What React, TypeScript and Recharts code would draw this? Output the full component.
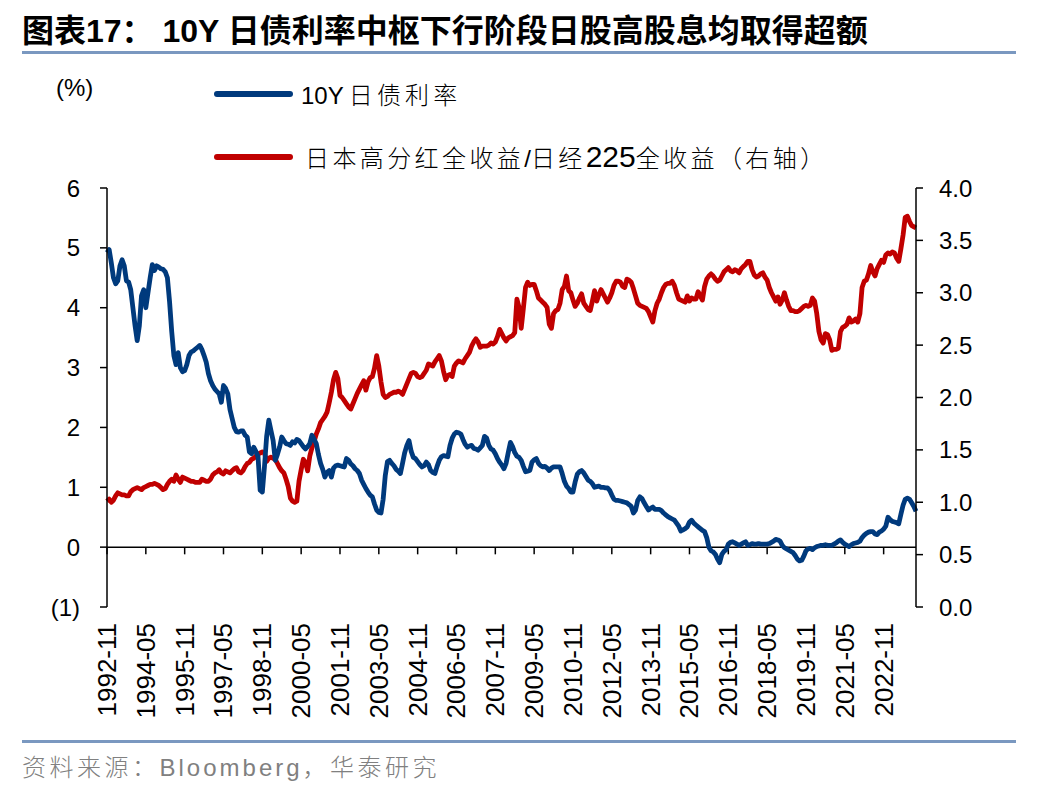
import React from 'react';
import { LineChart, Line, XAxis, YAxis, ReferenceLine } from 'recharts';

// Monthly categories: 1992-11 ... 2024-02
const FIRST_YEAR = 1992;
const FIRST_MONTH = 11;
const MONTH_COUNT = 376;
const months: string[] = [];
for (let i = 0; i < MONTH_COUNT; i++) {
  const t = FIRST_YEAR * 12 + (FIRST_MONTH - 1) + i;
  const y = Math.floor(t / 12);
  const m = (t % 12) + 1;
  months.push(`${y}-${m < 10 ? '0' + m : m}`);
}

// 10Y JGB yield (%), left axis
const jgb10y: number[] = [
  4.92,4.97,4.75,4.5,4.4,4.45,4.7,4.8,4.7,4.45,
  4.43,4.3,4.0,3.7,3.45,3.7,4.2,4.3,4.0,4.25,
  4.5,4.72,4.62,4.7,4.68,4.65,4.64,4.6,4.5,4.1,
  3.6,3.2,3.05,3.25,3.0,2.93,2.95,3.05,3.2,3.26,
  3.28,3.31,3.34,3.37,3.3,3.2,3.09,2.9,2.78,2.7,
  2.64,2.6,2.56,2.42,2.7,2.65,2.56,2.3,2.15,2.0,
  1.93,1.92,1.94,1.94,1.87,1.84,1.59,1.56,1.67,1.6,
  1.51,0.95,0.92,1.35,1.85,2.12,1.95,1.78,1.45,1.55,
  1.67,1.84,1.78,1.73,1.72,1.7,1.76,1.74,1.8,1.78,
  1.73,1.68,1.64,1.68,1.73,1.87,1.8,1.73,1.55,1.4,
  1.3,1.17,1.25,1.28,1.17,1.32,1.36,1.37,1.36,1.35,
  1.34,1.48,1.45,1.39,1.36,1.31,1.28,1.23,1.12,1.05,
  0.98,0.92,0.87,0.84,0.72,0.62,0.58,0.57,0.8,1.2,
  1.43,1.45,1.4,1.36,1.3,1.27,1.23,1.4,1.58,1.7,
  1.78,1.6,1.5,1.48,1.43,1.38,1.34,1.36,1.42,1.38,
  1.28,1.25,1.23,1.35,1.45,1.51,1.53,1.52,1.51,1.7,
  1.82,1.89,1.92,1.91,1.89,1.8,1.72,1.67,1.69,1.7,
  1.65,1.64,1.62,1.66,1.7,1.85,1.82,1.7,1.64,1.62,
  1.56,1.48,1.42,1.37,1.31,1.4,1.58,1.75,1.68,1.58,
  1.52,1.5,1.45,1.35,1.26,1.27,1.28,1.42,1.46,1.48,
  1.4,1.36,1.34,1.35,1.32,1.28,1.32,1.34,1.34,1.34,
  1.34,1.23,1.1,1.02,0.98,0.92,0.92,1.09,1.22,1.26,
  1.28,1.24,1.18,1.12,1.1,1.06,1.0,1.01,1.02,1.0,
  1.0,0.99,0.99,0.95,0.87,0.8,0.78,0.78,0.77,0.76,
  0.75,0.74,0.71,0.68,0.57,0.62,0.78,0.84,0.81,0.74,
  0.68,0.62,0.65,0.67,0.63,0.63,0.63,0.61,0.57,0.54,
  0.51,0.49,0.47,0.45,0.4,0.35,0.27,0.29,0.31,0.34,
  0.42,0.45,0.4,0.37,0.34,0.31,0.28,0.26,0.16,0.0,
  -0.06,-0.08,-0.12,-0.2,-0.26,-0.12,-0.07,-0.04,0.05,0.08,
  0.09,0.07,0.05,0.03,0.05,0.07,0.09,0.03,0.04,0.06,
  0.05,0.05,0.06,0.05,0.05,0.05,0.05,0.06,0.08,0.1,
  0.13,0.12,0.1,0.03,-0.01,-0.03,-0.05,-0.07,-0.09,-0.14,
  -0.2,-0.23,-0.22,-0.15,-0.06,-0.03,-0.02,-0.04,-0.01,0.01,
  0.02,0.03,0.03,0.04,0.03,0.03,0.03,0.05,0.07,0.1,
  0.12,0.08,0.05,0.03,0.01,0.04,0.06,0.07,0.08,0.1,
  0.16,0.2,0.23,0.25,0.26,0.26,0.22,0.21,0.25,0.27,
  0.3,0.35,0.5,0.46,0.43,0.42,0.41,0.39,0.55,0.7,
  0.8,0.82,0.8,0.74,0.68,0.6,
];

// Japan high dividend total return / Nikkei 225 total return, right axis
const highDivRatio: number[] = [
  1.01,1.03,1.0,1.02,1.06,1.09,1.08,1.07,1.07,1.06,
  1.06,1.1,1.12,1.13,1.14,1.13,1.12,1.14,1.15,1.16,
  1.17,1.17,1.18,1.17,1.16,1.14,1.12,1.13,1.17,1.2,
  1.22,1.2,1.26,1.22,1.19,1.24,1.23,1.22,1.21,1.2,
  1.2,1.19,1.19,1.19,1.22,1.21,1.2,1.2,1.22,1.26,
  1.28,1.29,1.31,1.28,1.27,1.3,1.29,1.28,1.3,1.32,
  1.33,1.29,1.28,1.3,1.34,1.37,1.38,1.41,1.42,1.44,
  1.46,1.47,1.48,1.47,1.39,1.42,1.43,1.42,1.41,1.37,
  1.33,1.3,1.28,1.22,1.15,1.04,1.01,1.0,1.01,1.2,
  1.31,1.41,1.38,1.3,1.44,1.52,1.58,1.65,1.7,1.76,
  1.79,1.82,1.86,1.95,2.05,2.17,2.24,2.18,2.02,2.0,
  1.97,1.94,1.91,1.89,1.94,1.99,2.04,2.08,2.12,2.16,
  2.07,2.15,2.19,2.2,2.28,2.4,2.3,2.15,2.03,2.0,
  2.01,2.03,2.04,2.05,2.05,2.06,2.05,2.03,2.08,2.13,
  2.18,2.23,2.24,2.23,2.2,2.19,2.2,2.23,2.26,2.32,
  2.31,2.3,2.34,2.37,2.4,2.35,2.25,2.17,2.21,2.22,
  2.2,2.3,2.33,2.35,2.34,2.33,2.37,2.4,2.43,2.49,
  2.53,2.56,2.53,2.48,2.49,2.49,2.49,2.5,2.52,2.51,
  2.53,2.58,2.65,2.61,2.57,2.54,2.57,2.58,2.59,2.62,
  2.94,2.86,2.66,2.85,3.05,3.1,3.07,3.08,3.08,3.02,
  2.95,2.93,2.91,2.89,2.86,2.7,2.66,2.8,2.83,2.84,
  2.9,3.03,3.06,3.16,3.02,3.0,2.93,2.87,2.9,2.95,
  2.99,2.9,2.87,2.84,2.83,2.92,3.02,2.92,2.98,3.03,
  2.99,2.95,2.91,2.95,3.0,3.07,3.11,3.11,3.1,3.06,
  3.05,3.13,3.12,3.1,3.04,2.97,2.9,2.88,2.87,2.86,
  2.85,2.82,2.77,2.72,2.83,2.9,2.94,3.0,3.05,3.08,
  3.09,3.09,3.11,3.07,3.0,2.94,2.93,2.92,2.91,2.97,
  2.92,2.95,2.94,2.94,3.01,2.97,2.93,3.06,3.13,3.16,
  3.18,3.16,3.13,3.11,3.12,3.16,3.2,3.22,3.24,3.21,
  3.2,3.22,3.21,3.19,3.23,3.25,3.27,3.3,3.3,3.22,
  3.17,3.15,3.16,3.18,3.19,3.15,3.12,3.05,3.0,2.96,
  2.92,2.96,2.89,2.93,3.0,2.93,2.87,2.83,2.83,2.82,
  2.82,2.83,2.85,2.87,2.88,2.87,2.88,2.95,2.92,2.8,
  2.63,2.55,2.52,2.61,2.6,2.55,2.45,2.46,2.46,2.47,
  2.63,2.67,2.68,2.7,2.76,2.72,2.73,2.75,2.72,2.8,
  3.05,3.11,3.12,3.18,3.26,3.2,3.16,3.23,3.27,3.31,
  3.29,3.36,3.38,3.37,3.39,3.38,3.33,3.3,3.42,3.55,
  3.72,3.73,3.68,3.64,3.63,3.62,
];

const leftTicks: number[] = [-1, 0, 1, 2, 3, 4, 5, 6];
const rightTicks: number[] = [0, 0.5, 1, 1.5, 2, 2.5, 3, 3.5, 4];
const LABEL_STEP = 18;
const xTickLabels: string[] = months.filter((_, i) => i % LABEL_STEP === 0);

const TITLE = '图表17： 10Y 日债利率中枢下行阶段日股高股息均取得超额';
const UNIT = '(%)';
const SOURCE_A = '资料来源：';
const SOURCE_B = 'Bloomberg';
const SOURCE_C = '，华泰研究';

const BLUE = '#003A7D';
const RED = '#C00000';
const RULE = '#7A98C0';
const FONT = '"Liberation Sans", Arial, "Noto Sans CJK SC", sans-serif';
const CJK = '"Noto Sans CJK SC", sans-serif';

const data = months.map((d, i) => ({ d, jgb: jgb10y[i], ratio: highDivRatio[i] }));

const fmtLeft = (v: number) => (v < 0 ? `(${Math.abs(v)})` : `${v}`);
const fmtRight = (v: number) => v.toFixed(1);

const XTick = (props: any) => {
  const { x, y, payload } = props;
  return (
    <text
      transform={`translate(${x},${y + 16}) rotate(-90)`}
      textAnchor="end"
      dominantBaseline="central"
      fontSize={26}
      fontFamily={FONT}
      fill="#000"
    >
      {payload.value}
    </text>
  );
};

const cjkStyle = (ls: number): React.CSSProperties => ({ fontFamily: CJK, fontWeight: 300, letterSpacing: ls });
const latStyle = (fs: number, ls = 0): React.CSSProperties => ({ fontFamily: FONT, fontSize: fs, letterSpacing: ls });

export default function App() {
  return (
    <div style={{ position: 'absolute', left: 0, top: 0, width: 1048, height: 792, background: '#fff', fontFamily: FONT }}>
      <div style={{ position: 'absolute', left: 22, top: 11, fontSize: 32, fontWeight: 700, whiteSpace: 'pre', color: '#000', lineHeight: '40px' }}>
        {TITLE}
      </div>
      <div style={{ position: 'absolute', left: 22, top: 51, width: 994, height: 3, background: RULE }} />

      <div style={{ position: 'absolute', left: 56, top: 73, fontSize: 24, lineHeight: '30px', color: '#000' }}>{UNIT}</div>
      <svg style={{ position: 'absolute', left: 0, top: 0 }} width={1048} height={200}>
        <line x1={217} y1={94} x2={290} y2={94} stroke={BLUE} strokeWidth={6} strokeLinecap="round" />
        <line x1={217} y1={157} x2={290} y2={157} stroke={RED} strokeWidth={6} strokeLinecap="round" />
      </svg>
      <div style={{ position: 'absolute', left: 301, top: 79, fontSize: 24, lineHeight: '30px', color: '#000', whiteSpace: 'pre' }}>
        <span style={latStyle(24)}>10Y</span>
        <span style={{ ...cjkStyle(4.2), marginLeft: 5 }}>日债利率</span>
      </div>
      <div style={{ position: 'absolute', left: 305, top: 142, fontSize: 24, lineHeight: '30px', color: '#000', whiteSpace: 'pre' }}>
        <span style={cjkStyle(3.4)}>日本高分红全收益</span>
        <span style={latStyle(24)}>/</span>
        <span style={cjkStyle(3.4)}>日经</span>
        <span style={latStyle(30)}>225</span>
        <span style={cjkStyle(3.4)}>全收益（右轴）</span>
      </div>

      <div style={{ position: 'absolute', left: 0, top: 0 }}>
        <LineChart width={1048} height={792} data={data} margin={{ top: 188, right: 72, bottom: 65, left: 47 }}>
          <XAxis
            dataKey="d"
            interval={LABEL_STEP - 1}
            axisLine={false}
            tickLine={false}
            tickSize={0}
            tickMargin={0}
            height={120}
            tick={<XTick />}
            xAxisId="x"
          />
          <YAxis
            yAxisId="left"
            orientation="left"
            domain={[-1, 6]}
            ticks={leftTicks}
            tickFormatter={fmtLeft}
            width={60}
            axisLine={{ stroke: '#000', strokeWidth: 1.5 }}
            tickLine={{ stroke: '#000', strokeWidth: 1.5 }}
            tickSize={7}
            tickMargin={20}
            tick={{ fontSize: 24, fill: '#000', fontFamily: FONT }}
          />
          <YAxis
            yAxisId="right"
            orientation="right"
            domain={[0, 4]}
            ticks={rightTicks}
            tickFormatter={fmtRight}
            width={60}
            axisLine={{ stroke: '#000', strokeWidth: 1.5 }}
            tickLine={{ stroke: '#000', strokeWidth: 1.5 }}
            tickSize={7}
            tickMargin={16}
            tick={{ fontSize: 24, fill: '#000', fontFamily: FONT }}
          />
          <ReferenceLine xAxisId="x" yAxisId="left" y={0} stroke="#000" strokeWidth={1.5} />
          {xTickLabels.map((c) => (
            <ReferenceLine
              key={c}
              xAxisId="x"
              yAxisId="left"
              segment={[{ x: c, y: 0 }, { x: c, y: -0.12 }]}
              stroke="#000"
              strokeWidth={1.5}
            />
          ))}
          <Line
            xAxisId="x"
            yAxisId="right"
            type="linear"
            dataKey="ratio"
            stroke={RED}
            strokeWidth={4.8}
            dot={false}
            strokeLinejoin="round"
            isAnimationActive={false}
          />
          <Line
            xAxisId="x"
            yAxisId="left"
            type="linear"
            dataKey="jgb"
            stroke={BLUE}
            strokeWidth={4.8}
            dot={false}
            strokeLinejoin="round"
            isAnimationActive={false}
          />
        </LineChart>
      </div>

      <div style={{ position: 'absolute', left: 22, top: 740, width: 994, height: 3, background: RULE }} />
      <div style={{ position: 'absolute', left: 22, top: 750, fontSize: 24, lineHeight: '32px', color: '#808080', whiteSpace: 'pre' }}>
        <span style={cjkStyle(3.5)}>{SOURCE_A}</span>
        <span style={latStyle(24, 3)}>{SOURCE_B}</span>
        <span style={cjkStyle(3.5)}>{SOURCE_C}</span>
      </div>
    </div>
  );
}
